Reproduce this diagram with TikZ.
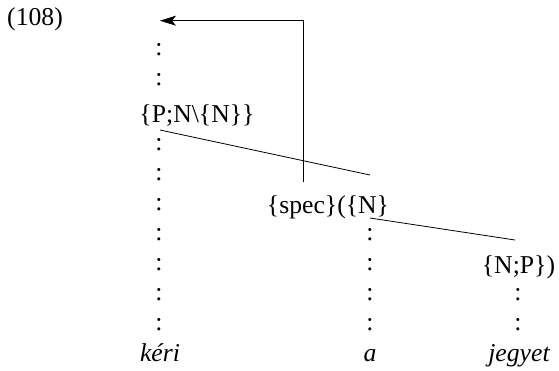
\documentclass[tikz,border=0pt]{standalone}
\usepackage{fontspec}
\setmainfont{Liberation Serif}
\usetikzlibrary{arrows.meta}
\begin{document}
\begin{tikzpicture}[x=1pt,y=-1pt,
  lbl/.style={anchor=base, inner sep=0pt, font=\fontsize{25.7}{30}\selectfont},
  colon/.style={lbl},
  word/.style={lbl, font=\fontsize{25.7}{30}\selectfont\itshape},
  conn/.style={line width=0.8pt},
  move/.style={conn, -{Stealth[length=16pt, width=10pt, inset=4pt]}}]
\useasboundingbox (0,0) rectangle (559,370);
% example number
\node[lbl, anchor=base west] (ex) at (7,25) {(108)};
% category labels
\node[lbl] (pn) at (197,122) {\{P;N\textbackslash\{N\}\}};
\node[lbl] (sp) at (328,213) {\{spec\}(\{N\}};
\node[lbl] (np) at (518.5,273) {\{N;P\})};
% words
\node[word] (w1) at (160,361) {kéri};
\node[word] (w2) at (370,361) {a};
\node[word] (w3) at (519,361) {jegyet};
% dotted columns
\foreach \y [count=\i] in {50,80,145,175,205,235,265,295,325}
  \node[colon] (cl\i) at (159,\y+5.9) {:};
\foreach \y [count=\i] in {235,265,295,325}
  \node[colon] (cm\i) at (370,\y+5.9) {:};
\foreach \y [count=\i] in {295,325}
  \node[colon] (cr\i) at (518,\y+5.9) {:};
% connector end points
\coordinate (a1) at (160,130);
\coordinate (b1) at (370,175);
\coordinate (a2) at (370,218);
\coordinate (b2) at (515,240);
\coordinate (m0) at (303,182);
\coordinate (m1) at (303,20.7);
\coordinate (m2) at (160,20.7);
\draw[conn] (a1) -- (b1);
\draw[conn] (a2) -- (b2);
\draw[move] (m0) -- (m1) -- (m2);
\end{tikzpicture}
\end{document}
